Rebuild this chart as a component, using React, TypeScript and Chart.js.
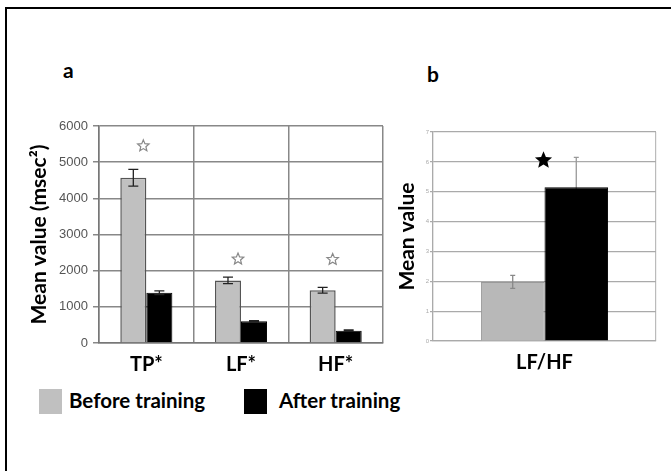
import React, { useEffect, useRef } from "react";
import { Chart, registerables } from "chart.js";

Chart.register(...registerables);

// ---------- data ----------
const seriesNames = ["Before training", "After training"];
const categoriesA = ["TP*", "LF*", "HF*"];
const beforeA = [4570, 1730, 1460];
const afterA = [1390, 600, 340];
const beforeErrA = [230, 90, 80];
const afterErrA = [50, 20, 20];
const starA = [5450, 2320, 2310];
const ticksA = [0, 1000, 2000, 3000, 4000, 5000, 6000];

const categoriesB = ["LF/HF"];
const beforeB = [1.98];
const afterB = [5.15];
const beforeErrB = [0.22];
const afterErrB = [1.0];
const starB = [6.05];
const ticksB = [0, 1, 2, 3, 4, 5, 6, 7];

const FONT = "Lato, 'Open Sans', sans-serif";

function drawStar(ctx: CanvasRenderingContext2D, cx: number, cy: number, r: number, filled: boolean, color: string) {
  ctx.save();
  ctx.beginPath();
  for (let i = 0; i < 10; i++) {
    const rr = i % 2 === 0 ? r : r * 0.45;
    const a = -Math.PI / 2 + (i * Math.PI) / 5;
    const x = cx + rr * Math.cos(a);
    const y = cy + rr * Math.sin(a);
    if (i === 0) ctx.moveTo(x, y);
    else ctx.lineTo(x, y);
  }
  ctx.closePath();
  if (filled) {
    ctx.fillStyle = color;
    ctx.fill();
  } else {
    ctx.strokeStyle = color;
    ctx.lineWidth = 1.2;
    ctx.stroke();
  }
  ctx.restore();
}

function makeOverlayPlugin(
  errs: number[][],
  errColors: string[],
  behind: boolean[],
  capW: number,
  stars: number[],
  starR: number,
  starFilled: boolean,
  starColor: string,
  starDx: number
) {
  const drawErr = (chart: any, wantBehind: boolean) => {
    const ctx = chart.ctx as CanvasRenderingContext2D;
    const yScale = chart.scales.y;
    chart.data.datasets.forEach((ds: any, di: number) => {
      if (behind[di] !== wantBehind) return;
      const meta = chart.getDatasetMeta(di);
      meta.data.forEach((el: any, i: number) => {
        const v = ds.data[i];
        const e = errs[di][i];
        const x = el.x;
        const yt = yScale.getPixelForValue(v + e);
        const yb = yScale.getPixelForValue(v - e);
        ctx.save();
        ctx.strokeStyle = errColors[di];
        ctx.lineWidth = 1.3;
        ctx.beginPath();
        ctx.moveTo(x, yt);
        ctx.lineTo(x, yb);
        ctx.moveTo(x - capW / 2, yt);
        ctx.lineTo(x + capW / 2, yt);
        ctx.moveTo(x - capW / 2, yb);
        ctx.lineTo(x + capW / 2, yb);
        ctx.stroke();
        ctx.restore();
      });
    });
  };
  return {
    id: "overlay",
    beforeDatasetsDraw(chart: any) {
      drawErr(chart, true);
    },
    afterDatasetsDraw(chart: any) {
      drawErr(chart, false);
      const ctx = chart.ctx as CanvasRenderingContext2D;
      const yScale = chart.scales.y;
      const xScale = chart.scales.x;
      stars.forEach((s, i) => {
        const x = xScale.getPixelForValue(i) + starDx;
        const y = yScale.getPixelForValue(s);
        drawStar(ctx, x, y, starR, starFilled, starColor);
      });
    },
  };
}

function ChartA() {
  const ref = useRef<HTMLCanvasElement>(null);
  useEffect(() => {
    const chart = new Chart(ref.current!, {
      type: "bar",
      data: {
        labels: categoriesA,
        datasets: [
          { label: seriesNames[0], data: beforeA, backgroundColor: "#c0c0c0", borderColor: "#555", borderWidth: 1.5 },
          { label: seriesNames[1], data: afterA, backgroundColor: "#000", borderColor: "#000", borderWidth: 1 },
        ],
      },
      options: {
        animation: false,
        responsive: false,
        maintainAspectRatio: false,
        layout: { padding: { top: 26, right: 17, left: 0, bottom: 0 } },
        datasets: { bar: { categoryPercentage: 0.55, barPercentage: 1 } },
        plugins: { legend: { display: false }, tooltip: { enabled: false } },
        scales: {
          x: {
            grid: { offset: true, color: "#888", lineWidth: 1.5, drawTicks: false },
            border: { color: "#777", width: 1.5 },
            ticks: { color: "#000", font: { family: FONT, size: 20, weight: "bold" }, padding: 10 },
            afterFit: (s: any) => { s.height = 37; },
          },
          y: {
            min: 0,
            max: 6000,
            afterBuildTicks: (s: any) => { s.ticks = ticksA.map((v) => ({ value: v })); },
            grid: { color: "#888", lineWidth: 1.5, tickLength: 6 },
            border: { color: "#777", width: 1.5 },
            ticks: { color: "#555", font: { family: "'Liberation Sans', Arial, sans-serif", size: 13 }, padding: 5, callback: (v: any) => String(v) },
            title: { display: true, text: "Mean value (msec²)", color: "#000", font: { family: FONT, size: 21, weight: "bold" }, padding: { top: 27, bottom: 0 } },
            afterFit: (s: any) => { s.width = 99; },
          },
        },
      },
      plugins: [makeOverlayPlugin([beforeErrA, afterErrA], ["#222", "#222"], [false, false], 10, starA, 6, false, "#888", -3)],
    } as any);
    return () => chart.destroy();
  }, []);
  return <canvas ref={ref} width={400} height={280} style={{ position: "absolute", left: 0, top: 100, width: 400, height: 280 }} />;
}

function ChartB() {
  const ref = useRef<HTMLCanvasElement>(null);
  useEffect(() => {
    const chart = new Chart(ref.current!, {
      type: "bar",
      data: {
        labels: categoriesB,
        datasets: [
          { label: seriesNames[0], data: beforeB, backgroundColor: "#b8b8b8", borderColor: "#999", borderWidth: 1 },
          { label: seriesNames[1], data: afterB, backgroundColor: "#000", borderColor: "#000", borderWidth: 1 },
        ],
      },
      options: {
        animation: false,
        responsive: false,
        maintainAspectRatio: false,
        layout: { padding: { top: 32, right: 15, left: 0, bottom: 0 } },
        datasets: { bar: { categoryPercentage: 0.57, barPercentage: 1 } },
        plugins: { legend: { display: false }, tooltip: { enabled: false } },
        scales: {
          x: {
            grid: { offset: true, color: "#bbb", lineWidth: 1.2, drawTicks: false },
            border: { color: "#aaa", width: 1.2 },
            ticks: { color: "#000", font: { family: FONT, size: 20, weight: "bold" }, padding: 10 },
            afterFit: (s: any) => { s.height = 39; },
          },
          y: {
            min: 0,
            max: 7,
            afterBuildTicks: (s: any) => { s.ticks = ticksB.map((v) => ({ value: v })); },
            grid: { color: "#aaa", lineWidth: 1.2, tickLength: 3 },
            border: { color: "#aaa", width: 1.2 },
            ticks: { color: "#aaa", font: { family: "'Liberation Sans', Arial, sans-serif", size: 6 }, padding: 1, callback: (v: any) => String(v) },
            title: { display: true, text: "Mean value", color: "#000", font: { family: FONT, size: 21, weight: "bold" }, padding: { top: 15, bottom: 0 } },
            afterFit: (s: any) => { s.width = 53; },
          },
        },
      },
      plugins: [makeOverlayPlugin([beforeErrB, afterErrB], ["#888", "#999"], [false, true], 5, starB, 9, true, "#000", -1)],
    } as any);
    return () => chart.destroy();
  }, []);
  return <canvas ref={ref} width={291} height={280} style={{ position: "absolute", left: 380, top: 100, width: 291, height: 280 }} />;
}

export default function App() {
  const legendColors = ["#c0c0c0", "#000"];
  const legendPos = [
    { box: 39, text: 69 },
    { box: 244, text: 279 },
  ];
  return (
    <div style={{ position: "fixed", left: 0, top: 0, width: 671, height: 471, background: "#fff", overflow: "hidden", fontFamily: FONT }}>
      <div style={{ position: "absolute", left: 5, top: 7, width: 700, height: 500, borderTop: "2px solid #000", borderLeft: "2px solid #000" }} />
      <div style={{ position: "absolute", left: 63, top: 57, fontSize: 21, fontWeight: "bold", color: "#000" }}>a</div>
      <div style={{ position: "absolute", left: 427, top: 61, fontSize: 21, fontWeight: "bold", color: "#000" }}>b</div>
      <ChartA />
      <ChartB />
      {seriesNames.map((n, i) => (
        <React.Fragment key={n}>
          <div style={{ position: "absolute", left: legendPos[i].box, top: 389, width: 23, height: 25, background: legendColors[i] }} />
          <div style={{ position: "absolute", left: legendPos[i].text, top: 387, fontSize: 20.5, fontWeight: "bold", color: "#000", lineHeight: "26px", whiteSpace: "nowrap" }}>{n}</div>
        </React.Fragment>
      ))}
    </div>
  );
}
